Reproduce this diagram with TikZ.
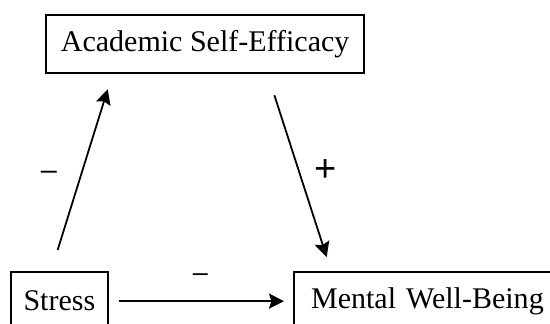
\documentclass[tikz,border=0pt]{standalone}
\usepackage{fontspec}
\setmainfont{Liberation Serif}
\newfontfamily\signfont{Liberation Sans}
\usetikzlibrary{arrows.meta}
\tikzset{
  box/.style={draw=black, line width=1.15pt, inner sep=0pt, anchor=north west,
    font=\fontsize{15}{18}\selectfont, minimum height=29pt},
  arr/.style={line width=0.9pt, -{Stealth[length=7.5pt,width=7.5pt,inset=1.2pt]}},
  sign/.style={inner sep=0pt, anchor=base}
}
\begin{document}
\begin{tikzpicture}[x=0.5pt,y=-0.5pt]
\path[use as bounding box, clip] (0,0) rectangle (550,323);
\node[box, minimum width=159pt] (A) at (45,14) {Academic Self-Efficacy};
\node[box, minimum width=48.75pt] (S) at (9.5,271) {Stress};
\node[box, text width=140pt, align=left, inner xsep=8.5pt] (M) at (293,271) {Mental Well-Being};
\draw[arr, shorten <=11pt, shorten >=7.85pt]
  ([shift={(41.6,0)}]S.north west) -- ([shift={(67.4,0)}]A.south west);
\draw[arr, shorten <=11pt, shorten >=7.35pt]
  ([shift={(222.6,0)}]A.south west) -- ([shift={(38.2,0)}]M.north west);
\draw[arr, shorten <=5pt, shorten >=4.5pt] (S.east) -- (S.east -| M.west);
\node[sign, font=\signfont\fontsize{14.4}{16}\selectfont] (m1) at (49,179) {–};
\node[sign, font=\signfont\fontsize{19}{22}\selectfont] (p1) at (325.5,181.5) {+};
\node[sign, font=\signfont\fontsize{13.5}{15}\selectfont] (m2) at (200.5,281) {–};
\end{tikzpicture}
\end{document}
